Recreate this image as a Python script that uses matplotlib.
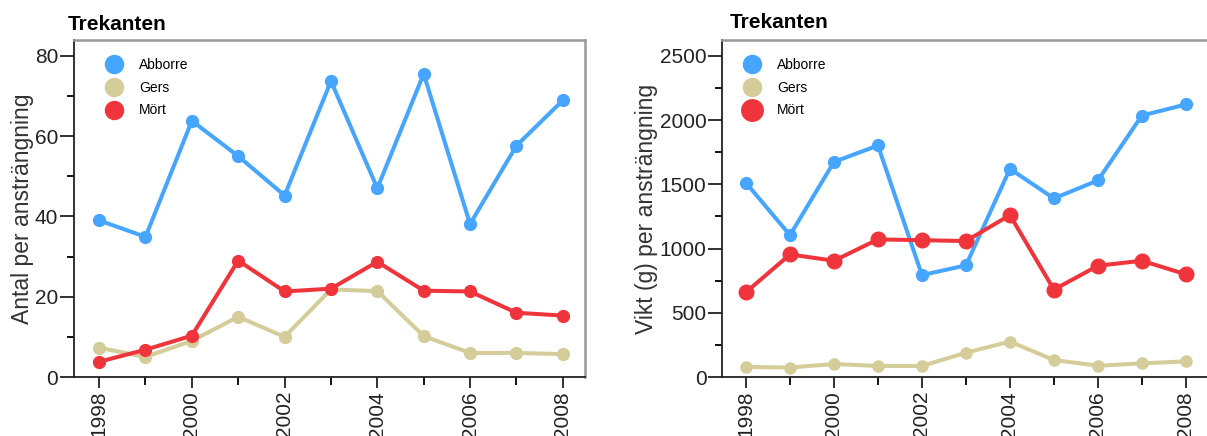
"""
Trekanten fish survey: catch per effort (count and weight), 1998-2008.
"""
import matplotlib
matplotlib.use('Agg')
import matplotlib.pyplot as plt
from matplotlib.lines import Line2D
from matplotlib.ticker import MultipleLocator

plt.rcParams['font.family'] = ['Liberation Sans', 'DejaVu Sans']

years = [1998, 1999, 2000, 2001, 2002, 2003, 2004, 2005, 2006, 2007, 2008]
species = ['Abborre', 'Gers', 'Mört']

# Antal per ansträngning
antal_abborre = [39.0, 34.9, 63.8, 55.0, 45.2, 73.7, 47.0, 75.5, 38.1, 57.6, 68.9]
antal_gers = [7.3, 5.0, 9.0, 15.0, 10.0, 21.8, 21.4, 10.2, 6.0, 6.0, 5.7]
antal_mort = [3.8, 6.8, 10.3, 29.0, 21.3, 22.0, 28.7, 21.5, 21.3, 16.0, 15.3]

# Vikt (g) per ansträngning
vikt_abborre = [1511, 1104, 1674, 1802, 793, 869, 1620, 1390, 1530, 2035, 2121]
vikt_gers = [78, 74, 101, 86, 86, 189, 276, 132, 88, 106, 122]
vikt_mort = [660, 954, 905, 1071, 1065, 1058, 1260, 680, 866, 905, 799]

colors = {'Abborre': '#45a5ff', 'Gers': '#d4cc99', 'Mört': '#f0343c'}

fig = plt.figure(figsize=(12.07, 4.36), dpi=100)
ax1 = fig.add_axes([0.061, 0.1353, 0.4237, 0.7727])
ax2 = fig.add_axes([0.598, 0.1353, 0.402, 0.7727])


def style_axes(ax, ylim, ymajor, yminor, ylabel, show_right=True):
    ax.set_xlim(1997.45, 2008.48)
    ax.set_ylim(*ylim)
    ax.xaxis.set_major_locator(MultipleLocator(2))
    ax.xaxis.set_minor_locator(MultipleLocator(1))
    ax.yaxis.set_major_locator(MultipleLocator(ymajor))
    ax.yaxis.set_minor_locator(MultipleLocator(yminor))
    ax.tick_params(axis='y', which='major', length=10, width=1.3, labelsize=15, pad=1, colors='#222222')
    ax.tick_params(axis='y', which='minor', length=5, width=1.3)
    ax.tick_params(axis='x', which='major', length=8, width=1.3, labelsize=15, pad=2,
                   labelrotation=90, colors='#222222')
    ax.tick_params(axis='x', which='minor', length=6, width=1.3)
    for s in ['left', 'bottom']:
        ax.spines[s].set_color('#222222')
        ax.spines[s].set_linewidth(1.3)
    for s in ['top', 'right']:
        ax.spines[s].set_color('#999999')
        ax.spines[s].set_linewidth(1.8)
    ax.spines['right'].set_visible(show_right)
    ax.set_ylabel(ylabel, fontsize=16.5, color='#333333', labelpad=1)


def add_legend(ax, sizes, x0):
    handles = [Line2D([], [], linestyle='none', marker='o', markersize=sizes[i],
                      color=colors[sp]) for i, sp in enumerate(species)]
    ax.legend(handles, species, loc='upper left', bbox_to_anchor=(x0, 0.975),
              frameon=False, fontsize=10, handlelength=1.2, handletextpad=1.2,
              labelspacing=0.62, borderaxespad=0.3)


# left panel: counts
for sp, vals in zip(species, [antal_abborre, antal_gers, antal_mort]):
    ax1.plot(years, vals, color=colors[sp], linewidth=2.9, marker='o', markersize=8.5)
style_axes(ax1, (0, 83.9), 20, 10, 'Antal per ansträngning')
add_legend(ax1, [13, 13, 13], 0.044)
fig.text(68 / 1207, 1 - 24 / 436, 'Trekanten', fontsize=15, fontweight='bold', va='center')

# right panel: weights
msizes = {'Abborre': 8.5, 'Gers': 8, 'Mört': 10.5}
for sp, vals in zip(species, [vikt_abborre, vikt_gers, vikt_mort]):
    ax2.plot(years, vals, color=colors[sp], linewidth=2.9, marker='o', markersize=msizes[sp])
style_axes(ax2, (0, 2622), 500, 250, 'Vikt (g) per ansträngning', show_right=False)
add_legend(ax2, [13, 13, 15.5], 0.025)
fig.text(730 / 1207, 1 - 22 / 436, 'Trekanten', fontsize=15, fontweight='bold', va='center')

fig.savefig('out.png', dpi=100)
